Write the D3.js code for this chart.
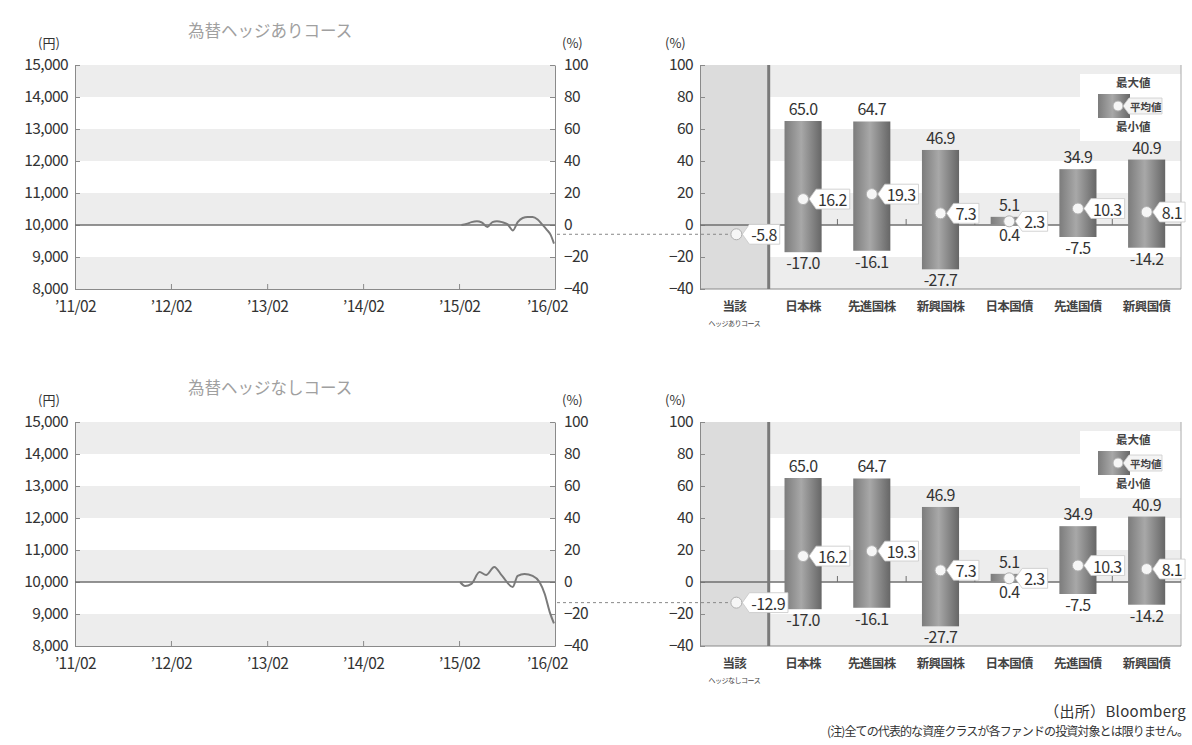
<!DOCTYPE html>
<html>
<head>
<meta charset="utf-8">
<script src="https://cdn.jsdelivr.net/npm/d3@7"></script>
<style>
body { margin: 0; background: #fff; }
text { font-family: "Noto Sans CJK JP", "Noto Sans", sans-serif; }
</style>
</head>
<body>
<svg id="Target" width="1192" height="745"></svg>
<script>
// category data for the right (range) charts
const categories = ["当該", "日本株", "先進国株", "新興国株", "日本国債", "先進国債", "新興国債"];
const maxValues = [null, 65.0, 64.7, 46.9, 5.1, 34.9, 40.9];
const minValues = [null, -17.0, -16.1, -27.7, 0.4, -7.5, -14.2];
const avgHedged = [-5.8, 16.2, 19.3, 7.3, 2.3, 10.3, 8.1];
const avgUnhedged = [-12.9, 16.2, 19.3, 7.3, 2.3, 10.3, 8.1];

// NAV series for the left charts
const hedgedDates = ["2015-02-10", "2015-03-01", "2015-03-20", "2015-04-10", "2015-04-28", "2015-05-20",
  "2015-06-08", "2015-06-25", "2015-07-15", "2015-08-05", "2015-08-25", "2015-09-12", "2015-10-01",
  "2015-10-20", "2015-11-08", "2015-11-27", "2015-12-15", "2016-01-01", "2016-01-15", "2016-01-28"];
const hedgedNav = [10000, 10030, 10090, 10120, 10080, 9940, 10090, 10120, 10090, 10020, 9830, 10090, 10220,
  10250, 10250, 10170, 10010, 9850, 9700, 9420];
const unhedgedDates = ["2015-02-05", "2015-02-24", "2015-03-20", "2015-04-20", "2015-05-15", "2015-06-15",
  "2015-07-15", "2015-08-24", "2015-09-12", "2015-10-08", "2015-11-08", "2015-12-04", "2015-12-24",
  "2016-01-12", "2016-01-28"];
const unhedgedNav = [10000, 9875, 9940, 10310, 10220, 10470, 10190, 9845, 10190, 10250, 10190, 10000, 9625,
  9060, 8710];

// axis ticks
const yenTicks = [8000, 9000, 10000, 11000, 12000, 13000, 14000, 15000];
const pctTicks = [-40, -20, 0, 20, 40, 60, 80, 100];
const dateTicks = ["2011-02-01", "2012-02-01", "2013-02-01", "2014-02-01", "2015-02-01", "2016-02-01"];
const dateTickLabels = ["’11/02", "’12/02", "’13/02", "’14/02", "’15/02", "’16/02"];

const parse = d3.timeParse("%Y-%m-%d");
const svg = d3.select("#Target");

const defs = svg.append("defs");
const grad = defs.append("linearGradient").attr("id", "barGrad");
grad.append("stop").attr("offset", "0%").attr("stop-color", "#7c7c7c");
grad.append("stop").attr("offset", "45%").attr("stop-color", "#a8a8a8");
grad.append("stop").attr("offset", "100%").attr("stop-color", "#666");

const panelH = 224;
const bandFill = "#ededed";
const axisColor = "#8a8a8a";
const textColor = "#333";

const styleAxis = g => {
  g.selectAll("path.domain").attr("stroke", axisColor);
  g.selectAll(".tick line").attr("stroke", axisColor);
  g.selectAll(".tick text").attr("fill", textColor).attr("font-size", 15.5)
    .attr("font-family", "'Noto Sans CJK JP', sans-serif").attr("letter-spacing", -0.6);
};

function calloutLabel(g, cx, cy, label, fontSize) {
  const grp = g.append("g");
  const path = grp.append("path").attr("fill", "#fff").attr("stroke", "#c8c8c8").attr("stroke-width", 0.8);
  const t = grp.append("text")
    .attr("x", cx + 15).attr("y", cy)
    .attr("dominant-baseline", "central")
    .attr("font-size", fontSize).attr("letter-spacing", -0.6)
    .attr("fill", textColor).text(label);
  const w = t.node().getComputedTextLength();
  const h = fontSize * 0.62;
  const x2 = cx + 15 + w + 3;
  path.attr("d", `M${cx + 6},${cy} L${cx + 13},${cy - h} L${x2},${cy - h} L${x2},${cy + h} L${cx + 13},${cy + h} Z`);
  grp.append("circle").attr("cx", cx).attr("cy", cy).attr("r", 5.5)
    .attr("fill", "#f6f6f6").attr("stroke", "#b0b0b0").attr("stroke-width", 1);
}

function drawPanel(oy, title, courseLabel, dates, nav, avgValues) {
  // ---------- left: NAV line chart ----------
  const x = d3.scaleTime().domain([parse("2011-02-01"), parse("2016-02-01")]).range([75, 555]);
  const yYen = d3.scaleLinear().domain([8000, 15000]).range([oy + panelH, oy]);
  const yPct = d3.scaleLinear().domain([-40, 100]).range([oy + panelH, oy]);

  const left = svg.append("g");
  left.selectAll("rect.band")
    .data(yenTicks.slice(0, -1).filter((d, i) => i % 2 === 0))
    .join("rect")
    .attr("x", 75).attr("width", 480)
    .attr("y", d => yYen(d + 1000)).attr("height", d => yYen(d) - yYen(d + 1000))
    .attr("fill", bandFill);

  left.append("g").attr("transform", "translate(75,0)")
    .call(d3.axisLeft(yYen).tickValues(yenTicks).tickFormat(d3.format(",")).tickSize(-5).tickSizeOuter(0).tickPadding(7))
    .call(styleAxis);
  left.append("g").attr("transform", "translate(555,0)")
    .call(d3.axisRight(yPct).tickValues(pctTicks).tickSize(-5).tickSizeOuter(0).tickPadding(9))
    .call(styleAxis);
  const xAxisG = left.append("g").attr("transform", `translate(0,${oy + panelH})`)
    .call(d3.axisBottom(x).tickValues(dateTicks.map(parse)).tickFormat((d, i) => dateTickLabels[i])
      .tickSize(-5).tickSizeOuter(0).tickPadding(12))
    .call(styleAxis);
  // last label sits a little left of its tick, as in the original
  xAxisG.selectAll(".tick text").filter((d, i) => i === dateTicks.length - 1).attr("dx", -8);

  left.append("line")
    .attr("x1", 75).attr("x2", 555).attr("y1", yYen(10000)).attr("y2", yYen(10000))
    .attr("stroke", "#6f6f6f").attr("stroke-width", 1.5);

  const line = d3.line().x(d => x(d[0])).y(d => yYen(d[1])).curve(d3.curveMonotoneX);
  left.append("path")
    .datum(dates.map((d, i) => [parse(d), nav[i]]))
    .attr("d", line).attr("fill", "none")
    .attr("stroke", "#7a7a7a").attr("stroke-width", 2);

  left.append("text").attr("x", 38).attr("y", oy - 17).attr("font-size", 13).attr("fill", textColor).text("(円)");
  left.append("text").attr("x", 562).attr("y", oy - 17).attr("font-size", 13).attr("fill", textColor).text("(%)");
  left.append("text").attr("x", 188).attr("y", oy - 28).attr("font-size", 16.5).attr("fill", "#a0a0a0").text(title);

  // ---------- right: range chart ----------
  const xb = d3.scaleBand().domain(categories).range([700, 1181]).paddingInner(0.46).paddingOuter(0.23);
  const step = xb.step();
  const sepX = 700 + step;
  const right = svg.append("g");

  right.selectAll("rect.band")
    .data(pctTicks.slice(0, -1).filter((d, i) => i % 2 === 0))
    .join("rect")
    .attr("x", sepX).attr("width", 1181 - sepX)
    .attr("y", d => yPct(d + 20)).attr("height", d => yPct(d) - yPct(d + 20))
    .attr("fill", bandFill);
  right.append("rect").attr("x", 700).attr("width", step).attr("y", oy).attr("height", panelH).attr("fill", "#dcdcdc");

  // legend box
  right.append("rect").attr("x", 1080).attr("y", oy + 9).attr("width", 101).attr("height", 67).attr("fill", "#fff");

  right.append("line").attr("x1", 1181).attr("x2", 1181).attr("y1", oy).attr("y2", oy + panelH)
    .attr("stroke", "#aaa");
  right.append("g").attr("transform", "translate(700,0)")
    .call(d3.axisLeft(yPct).tickValues(pctTicks).tickSize(-5).tickSizeOuter(0).tickPadding(7))
    .call(styleAxis);
  right.append("line").attr("x1", 700).attr("x2", 1181).attr("y1", oy + panelH).attr("y2", oy + panelH)
    .attr("stroke", axisColor);

  const y0 = yPct(0);
  right.append("line").attr("x1", 700).attr("x2", 1181).attr("y1", y0).attr("y2", y0)
    .attr("stroke", "#6f6f6f").attr("stroke-width", 1.5);
  right.selectAll("line.boundary")
    .data(categories.slice(1))
    .join("line")
    .attr("x1", d => xb(d) - xb.paddingInner() * step / 2).attr("x2", d => xb(d) - xb.paddingInner() * step / 2)
    .attr("y1", y0 - 6).attr("y2", y0)
    .attr("stroke", "#6f6f6f");

  right.append("line").attr("x1", sepX).attr("x2", sepX).attr("y1", oy).attr("y2", oy + panelH)
    .attr("stroke", "#7a7a7a").attr("stroke-width", 3);

  right.append("text").attr("x", 665).attr("y", oy - 17).attr("font-size", 13).attr("fill", textColor).text("(%)");

  const rows = categories.map((c, i) => ({c, max: maxValues[i], min: minValues[i], avg: avgValues[i]}));
  const barRows = rows.filter(d => d.max !== null);

  right.selectAll("rect.bar")
    .data(barRows)
    .join("rect")
    .attr("x", d => xb(d.c)).attr("width", xb.bandwidth())
    .attr("y", d => yPct(d.max)).attr("height", d => yPct(d.min) - yPct(d.max))
    .attr("fill", "url(#barGrad)");

  right.selectAll("text.max")
    .data(barRows)
    .join("text")
    .attr("x", d => xb(d.c) + xb.bandwidth() / 2).attr("y", d => yPct(d.max) - 6)
    .attr("text-anchor", "middle").attr("font-size", 16).attr("letter-spacing", -0.6).attr("fill", textColor)
    .text(d => d.max.toFixed(1));
  right.selectAll("text.min")
    .data(barRows)
    .join("text")
    .attr("x", d => xb(d.c) + xb.bandwidth() / 2).attr("y", d => yPct(d.min) + 17)
    .attr("text-anchor", "middle").attr("font-size", 16).attr("letter-spacing", -0.6).attr("fill", textColor)
    .text(d => d.min.toFixed(1));

  // dashed link from NAV chart to the fund's own return
  const fundX = xb(categories[0]) + xb.bandwidth() / 2 + 2;
  right.append("line")
    .attr("x1", 557).attr("x2", fundX).attr("y1", yPct(avgValues[0])).attr("y2", yPct(avgValues[0]))
    .attr("stroke", "#888").attr("stroke-dasharray", "3,3");

  rows.forEach((d, i) => {
    const cx = i === 0 ? fundX : xb(d.c) + xb.bandwidth() / 2;
    calloutLabel(right, cx, yPct(d.avg), d.avg.toFixed(1), 16);
  });

  // category labels
  right.selectAll("text.cat")
    .data(categories)
    .join("text")
    .attr("x", d => xb(d) + xb.bandwidth() / 2).attr("y", oy + panelH + 22)
    .attr("text-anchor", "middle").attr("font-size", 12.5).attr("font-weight", 700).attr("fill", "#444")
    .attr("letter-spacing", -0.6)
    .text(d => d);
  right.append("text")
    .attr("x", xb(categories[0]) + xb.bandwidth() / 2).attr("y", oy + panelH + 37)
    .attr("text-anchor", "middle").attr("font-size", 7).attr("fill", "#444")
    .attr("letter-spacing", -0.5)
    .text(courseLabel);

  // legend
  const lg = right.append("g");
  lg.append("text").attr("x", 1116).attr("y", oy + 22).attr("font-size", 11.5).attr("font-weight", 700)
    .attr("fill", "#444").text("最大値");
  lg.append("rect").attr("x", 1098).attr("y", oy + 29).attr("width", 32).attr("height", 24).attr("fill", "url(#barGrad)");
  const lcx = 1118, lcy = oy + 41;
  lg.append("path").attr("fill", "#f4f4f4").attr("stroke", "#ccc").attr("stroke-width", 0.8)
    .attr("d", `M${lcx + 5},${lcy} L${lcx + 11},${lcy - 8} L${1162},${lcy - 8} L${1162},${lcy + 8} L${lcx + 11},${lcy + 8} Z`);
  lg.append("text").attr("x", lcx + 12).attr("y", lcy).attr("dominant-baseline", "central")
    .attr("font-size", 10.5).attr("font-weight", 700).attr("fill", "#444").text("平均値");
  lg.append("circle").attr("cx", lcx).attr("cy", lcy).attr("r", 5).attr("fill", "#f6f6f6").attr("stroke", "#b0b0b0");
  lg.append("text").attr("x", 1116).attr("y", oy + 66).attr("font-size", 11.5).attr("font-weight", 700)
    .attr("fill", "#444").text("最小値");
}

drawPanel(65, "為替ヘッジありコース", "ヘッジありコース", hedgedDates, hedgedNav, avgHedged);
drawPanel(422, "為替ヘッジなしコース", "ヘッジなしコース", unhedgedDates, unhedgedNav, avgUnhedged);

svg.append("text").attr("x", 1186).attr("y", 717).attr("text-anchor", "end")
  .attr("font-size", 15).attr("fill", textColor).attr("letter-spacing", 0.3)
  .text("（出所）Bloomberg");
svg.append("text").attr("x", 1188).attr("y", 736).attr("text-anchor", "end")
  .attr("font-size", 12).attr("fill", textColor).attr("letter-spacing", -0.9)
  .text("(注)全ての代表的な資産クラスが各ファンドの投資対象とは限りません。");
</script>
</body>
</html>
